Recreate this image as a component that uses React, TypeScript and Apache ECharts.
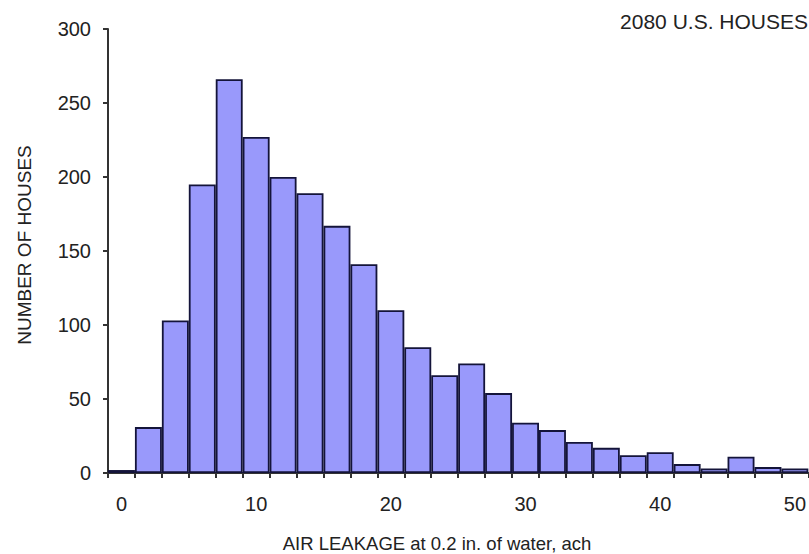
import React, { useEffect, useRef } from "react";
import * as echarts from "echarts";

const categories = ["0","2","4","6","8","10","12","14","16","18","20","22","24","26","28","30","32","34","36","38","40","42","44","46","48","50"];
const houseCounts = [2, 31, 103, 195, 266, 227, 200, 189, 167, 141, 110, 85, 66, 74, 54, 34, 29, 21, 17, 12, 14, 6, 3, 11, 4, 3];
const yTicks = [0, 50, 100, 150, 200, 250, 300];

const titleText = "2080 U.S. HOUSES";
const xName = "AIR LEAKAGE at 0.2 in. of water, ach";
const yName = "NUMBER OF HOUSES";

const FONT = "'Liberation Sans', Arial, Helvetica, sans-serif";
const TEXT = "#222";

export default function App() {
  const ref = useRef<HTMLDivElement>(null);
  useEffect(() => {
    if (!ref.current) return;
    const chart = echarts.init(ref.current, null, { renderer: "svg" });
    chart.setOption({
      animation: false,
      backgroundColor: "#ffffff",
      textStyle: { fontFamily: FONT },
      grid: { left: 108, right: 0, top: 29, bottom: 81, containLabel: false },
      xAxis: {
        type: "category",
        data: categories,
        boundaryGap: true,
        axisLine: { show: true, lineStyle: { color: "#333", width: 2 } },
        axisTick: { show: true, interval: 0, length: 5, lineStyle: { color: "#333", width: 2 } },
        axisLabel: {
          interval: 4,
          margin: 21,
          fontSize: 20,
          color: TEXT,
          fontFamily: FONT,
        },
        splitLine: { show: false },
      },
      yAxis: {
        type: "value",
        min: yTicks[0],
        max: yTicks[yTicks.length - 1],
        interval: 50,
        axisLine: { show: true, lineStyle: { color: "#333", width: 2 } },
        axisTick: { show: true, length: 5, lineStyle: { color: "#333", width: 2 } },
        axisLabel: { margin: 17, fontSize: 20, color: TEXT, fontFamily: FONT },
        splitLine: { show: false },
      },
      series: [
        {
          type: "bar",
          data: houseCounts,
          barCategoryGap: "0%",
          itemStyle: { color: "#9999fb", borderColor: "#14143a", borderWidth: 1.8 },
        },
      ],
      graphic: [
        {
          type: "text",
          right: 1,
          top: 11,
          style: { text: titleText, font: `21px ${FONT}`, fill: TEXT, textAlign: "right" },
        },
        {
          type: "text",
          x: 437,
          y: 543,
          style: {
            text: xName,
            font: `18.5px ${FONT}`,
            fill: TEXT,
            textAlign: "center",
            textVerticalAlign: "middle",
          },
        },
        {
          type: "text",
          x: 24,
          y: 245,
          rotation: Math.PI / 2,
          style: {
            text: yName,
            font: `19px ${FONT}`,
            fill: TEXT,
            textAlign: "center",
            textVerticalAlign: "middle",
          },
        },
      ],
    });
    return () => chart.dispose();
  }, []);
  return (
    <div
      ref={ref}
      style={{ position: "absolute", left: 0, top: 0, width: 809, height: 554 }}
    />
  );
}
